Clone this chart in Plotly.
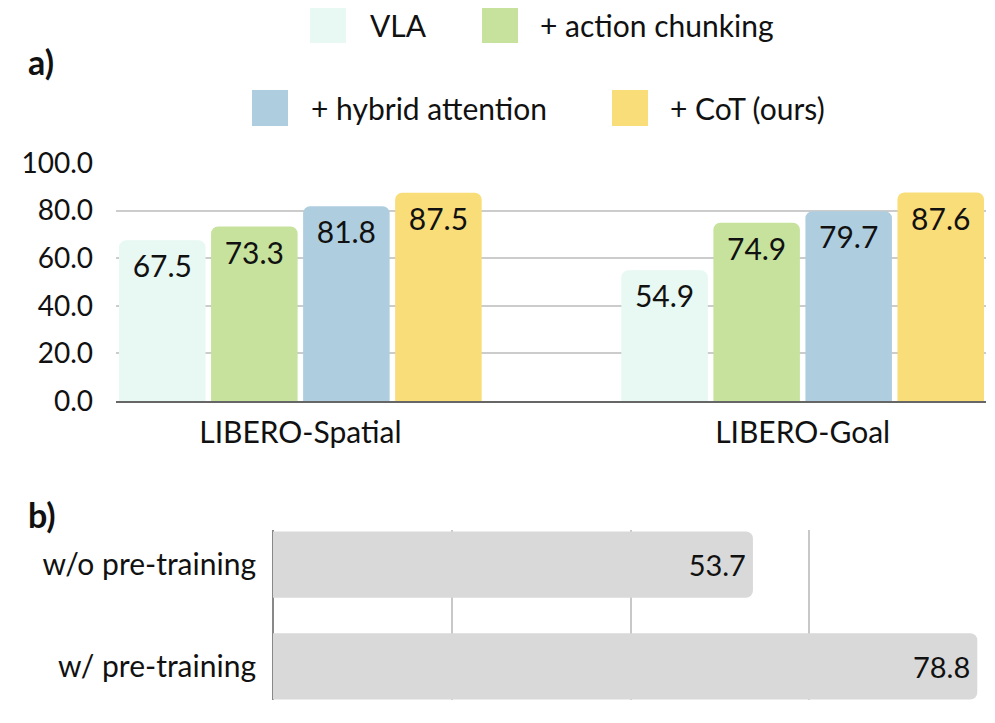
import plotly.graph_objects as go

# ---- data ----
categories_a = ["LIBERO-Spatial", "LIBERO-Goal"]
series_names = ["VLA", "+ action chunking", "+ hybrid attention", "+ CoT (ours)"]
vla = [67.5, 54.9]
action_chunking = [73.3, 74.9]
hybrid_attention = [81.8, 79.7]
cot = [87.5, 87.6]
series_values = [vla, action_chunking, hybrid_attention, cot]
colors = ["#e8f8f2", "#c6e29d", "#aecee0", "#f9dd79"]
y_ticks_a = [0, 20, 40, 60, 80, 100]

categories_b = ["w/o pre-training", "w/ pre-training"]
values_b = [53.7, 78.8]

FONT = "Lato"
W, H = 995, 723
OX, OY = 8, 8  # page body margin offset

fig = go.Figure()

for name, vals, col in zip(series_names, series_values, colors):
    fig.add_trace(go.Bar(
        x=categories_a, y=vals, name=name, marker=dict(color=col, line=dict(width=0)),
        text=[f"{v:.1f}" for v in vals], textposition="inside", insidetextanchor="end",
        textfont=dict(family=FONT, size=30, color="#111"), textangle=0,
        xaxis="x", yaxis="y", showlegend=False,
    ))

fig.add_trace(go.Bar(
    y=categories_b, x=values_b, orientation="h",
    marker=dict(color="#d9d9d9", line=dict(width=0)),
    text=[f"{v:.1f}" for v in values_b], textposition="inside", insidetextanchor="end",
    textfont=dict(family=FONT, size=29, color="#111"), textangle=0,
    xaxis="x2", yaxis="y2", showlegend=False, width=0.65,
))

def px(x):
    return (x - OX) / W

def py(y):
    return 1 - (y - OY) / H

shapes = []
annotations = []
legend_items = [
    (series_names[0], colors[0], 310, 25, 368),
    (series_names[1], colors[1], 482, 25, 538),
    (series_names[2], colors[2], 252, 108, 309),
    (series_names[3], colors[3], 612, 108, 668),
]
for name, col, sx, cy, tx in legend_items:
    shapes.append(dict(type="rect", xref="paper", yref="paper",
                       x0=px(sx), x1=px(sx + 36), y0=py(cy + 18), y1=py(cy - 18),
                       fillcolor=col, line=dict(width=0)))
    annotations.append(dict(text=name, xref="paper", yref="paper", x=px(tx), y=py(cy),
                            xanchor="left", yanchor="middle", showarrow=False,
                            font=dict(family=FONT, size=30, color="#111")))

annotations.append(dict(text="<b>a)</b>", xref="paper", yref="paper", x=px(26), y=py(62),
                        xanchor="left", yanchor="middle", showarrow=False,
                        font=dict(family=FONT, size=34, color="#111")))
annotations.append(dict(text="<b>b)</b>", xref="paper", yref="paper", x=px(26), y=py(515),
                        xanchor="left", yanchor="middle", showarrow=False,
                        font=dict(family=FONT, size=34, color="#111")))

fig.update_layout(
    width=W, height=H,
    margin=dict(l=0, r=0, t=0, b=0, pad=0),
    paper_bgcolor="white", plot_bgcolor="white",
    barmode="group", bargap=0.267, bargroupgap=0.06,
    barcornerradius=7,
    shapes=shapes, annotations=annotations,
    xaxis=dict(domain=[px(116), px(986)], range=[-0.367, 1.365], type="category",
               showgrid=False, showline=True, linecolor="#666", linewidth=2,
               ticks="", tickfont=dict(family=FONT, size=30, color="#111"),
               ticklabelstandoff=4, anchor="y", automargin=False),
    yaxis=dict(domain=[py(401), py(163)], range=[0, 100], tickvals=y_ticks_a,
               ticktext=[f"{v:.1f}" for v in y_ticks_a],
               showgrid=True, gridcolor="#cccccc", gridwidth=2, zeroline=False,
               showline=False, ticks="", tickfont=dict(family=FONT, size=28, color="#111"),
               ticklabelstandoff=22, anchor="x", automargin=False),
    xaxis2=dict(domain=[px(273), px(988)], range=[0, 80], tickvals=[0, 20, 40, 60, 80],
                showticklabels=False, showgrid=True, gridcolor="#c8c8c8", gridwidth=1.5,
                zeroline=True, zerolinecolor="#888", zerolinewidth=1.5,
                showline=False, anchor="y2", automargin=False),
    yaxis2=dict(domain=[py(700), py(530)], range=[1.33, -0.34], type="category",
                showgrid=False, showline=False, ticks="",
                tickfont=dict(family=FONT, size=30, color="#111"),
                ticklabelstandoff=16, anchor="x2", automargin=False),
)

fig.write_html("out.html")
